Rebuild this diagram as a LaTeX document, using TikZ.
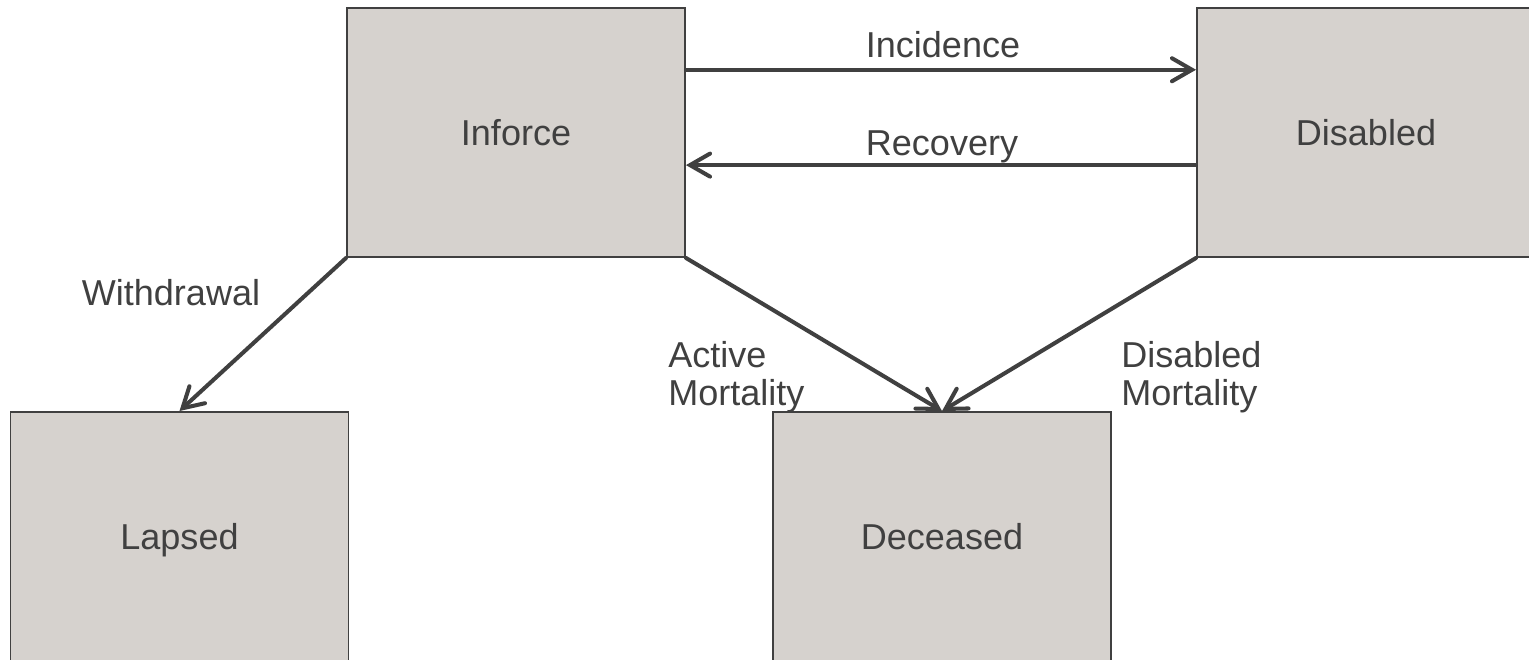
\documentclass[tikz,border=0pt]{standalone}
\usepackage{fontspec}
\setmainfont{Liberation Sans}
\usepackage{xcolor}
\definecolor{stgray}{RGB}{64,64,64}
\definecolor{stfill}{RGB}{214,210,206}
\usetikzlibrary{arrows.meta, positioning, calc}

\begin{document}
\begin{tikzpicture}[
  statebox/.style={draw=stgray, fill=stfill, line width=1.1pt, minimum width=6.76cm,
    minimum height=4.98cm, inner sep=0pt, text=stgray, text height=14.7pt, text depth=0pt,
    font=\fontsize{20.5}{22}\selectfont},
  trans/.style={draw=stgray, line width=2.3pt, line cap=round,
    -{Straight Barb[length=4mm, width=4.6mm, line cap=round]}},
  lbl/.style={text=stgray, font=\fontsize{20.5}{21.6}\selectfont, inner sep=0pt}
]
  \useasboundingbox (0,0) rectangle (30.58,13.2);

  % States
  \node[statebox] (inforce)  at (10.32,10.55) {Inforce};
  \node[statebox] (disabled) at (27.32,10.55) {Disabled};
  \node[statebox] (lapsed)   at (3.59,2.47)   {Lapsed};
  \node[statebox] (deceased) at (18.84,2.47)  {Deceased};

  % Transitions
  \draw[trans] ($(inforce.north east)!0.25!(inforce.south east)$)
    -- ($(disabled.north west)!0.25!(disabled.south west)$);
  \draw[trans] ($(disabled.north west)!0.63!(disabled.south west)$)
    -- ($(inforce.north east)!0.63!(inforce.south east)$);
  \draw[trans] (inforce.south west) -- (lapsed.north);
  \draw[trans] (inforce.south east) -- (deceased.north);
  \draw[trans] (disabled.south west) -- (deceased.north);

  % Labels
  \node[lbl] (incid) at (18.86,12.3)  {Incidence};
  \node[lbl] (recov) at (18.84,10.26) {Recovery};
  \node[lbl] (withd) at (3.42,7.34)   {Withdrawal};
  \node[lbl, anchor=west, align=left] (actm) at (13.36,5.66) {Active\\Mortality};
  \node[lbl, anchor=west, align=left] (dism) at (22.42,5.66) {Disabled\\Mortality};
\end{tikzpicture}
\end{document}
